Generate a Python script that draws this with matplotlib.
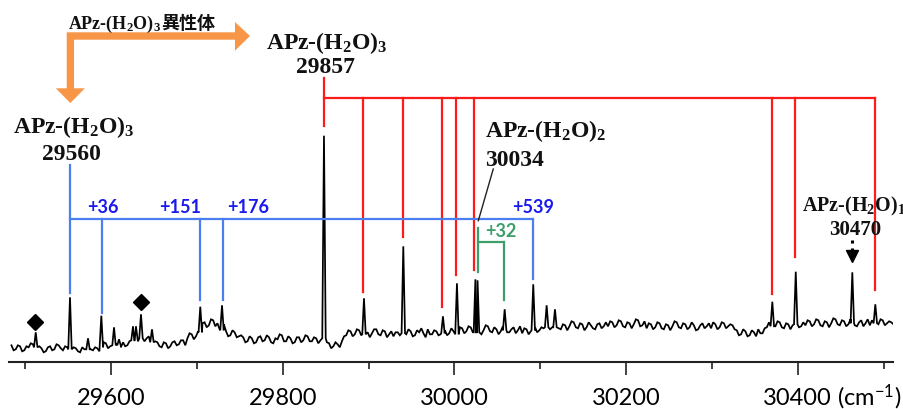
import numpy as np
import matplotlib
matplotlib.use("Agg")
import matplotlib.pyplot as plt
from matplotlib.patches import Polygon

plt.rcParams['mathtext.default'] = 'regular'

# ---------------- data ----------------
# noisy baseline of the spectrum, read every 5 cm-1 starting at 29484 cm-1
base_start = 29484
base_step = 5
base_y = [17, 13, 16, 12, 15, 18, 13, 14, 11, 16, 13, 17,
          12, 15, 11, 14, 10, 13, 16, 12, 14,
          15, 19, 16, 14, 18, 20, 17,
          22, 27, 25, 21, 26,
          17, 20, 15, 19, 16, 21, 18, 22,
          24, 28, 26,
          35, 40, 37, 42, 39, 34,
          31, 27, 30, 26,
          25, 21, 24, 20, 26, 22, 25, 19, 23, 27, 21, 24, 20, 25, 22, 26, 21, 24, 22,
          15, 19, 16, 18, 21,
          27, 31, 28, 32, 26, 30, 29, 33, 27, 31, 28, 26, 30, 32, 28, 31, 27, 30, 29, 33, 28, 31,
          28, 32, 29, 31,
          30, 34, 31, 35, 29, 33, 32, 36, 30, 33, 31, 34, 30, 35, 32, 29, 33, 31, 35, 32,
          34, 38, 35, 39, 33, 37, 36, 40, 34, 38, 35, 37, 33, 39, 36,
          36, 40, 37, 41, 35, 39, 38, 42, 37,
          34, 38, 35, 39, 33, 37, 36, 40, 34, 38, 35, 37, 33, 39, 36, 34, 38, 35, 39, 36, 37,
          32, 28, 31, 27, 30, 33, 29,
          35, 39, 36, 40, 34, 38, 37, 41, 36,
          37, 41, 38, 42, 36, 40, 39, 43, 37, 41, 38, 40, 36, 42, 39, 37, 41, 38, 42, 39, 40]
# the same baseline read half-way between those points (29486.5, 29491.5, ...)
base_y_mid = [12, 17, 11, 16, 19, 12, 16, 10, 15, 12, 18, 14,
              16, 10, 15, 11, 15, 9, 13, 15, 11,
              20, 14, 18, 19, 15, 16, 21,
              28, 21, 29, 24, 22,
              21, 16, 20, 14, 20, 17, 22, 17,
              29, 23, 31,
              39, 35, 43, 36, 33, 38,
              26, 32, 25, 27,
              20, 26, 19, 25, 21, 27, 20, 24, 28, 21, 26, 19, 25, 20, 27, 21, 25, 19, 26,
              20, 14, 20, 15, 26,
              32, 26, 33, 27, 31, 25, 33, 28, 32, 25, 31, 30, 27, 26, 33, 26, 32, 34, 25, 28, 32, 27,
              33, 27, 34, 28,
              35, 29, 36, 30, 34, 28, 37, 31, 35, 28, 36, 30, 33, 29, 36, 34, 28, 36, 30, 35,
              39, 33, 40, 34, 38, 32, 41, 35, 39, 32, 40, 34, 38, 34, 40,
              41, 35, 42, 36, 40, 34, 43, 36, 41,
              39, 33, 40, 34, 38, 32, 41, 35, 39, 33, 40, 32, 37, 34, 39, 40, 33, 40, 34, 38, 33,
              27, 33, 26, 32, 26, 29, 34,
              40, 34, 41, 35, 39, 33, 42, 35, 40,
              42, 36, 43, 37, 41, 35, 44, 38, 42, 36, 43, 37, 40, 36, 43, 42, 36, 43, 37, 41, 38]

# sharp peaks: position (cm-1), local base, top intensity
peak_pos = [29512.3, 29552.2, 29573.2, 29588.7, 29603.5, 29609.3, 29625.6, 29629.1,
            29634.9, 29647.7, 29704.0, 29729.3, 29848.1, 29894.7, 29940.5, 29986.7,
            30003.0, 30024.5, 30027.0, 30058.6, 30091.9, 30107.5, 30117.2, 30370.4,
            30397.7, 30463.6, 30490.4]
peak_base = [15, 13, 13, 15, 17, 17, 22, 22,
             24, 20, 30, 32, 24, 28, 29, 29,
             28, 30, 30, 32, 32, 35, 35, 36,
             38, 39, 39]
peak_top = [30, 65, 24, 46.6, 35, 23, 36, 36,
            48, 33, 55.6, 57, 226.6, 64, 116, 46,
            79, 83, 82, 53, 78, 57, 53, 60.6,
            90.6, 90, 58]

# x axis ticks
major_ticks = [29600, 29800, 30000, 30200, 30400]
minor_ticks = [29500, 29700, 29900, 30100, 30300, 30500]
tick_labels = ["29600", "29800", "30000", "30200", "30400"]

# red progression (APz-(H2O)3 29857)
red_x = [29848.4, 29893.6, 29940.6, 29986.0, 30002.3, 30022.8, 30369.7, 30397.3, 30490.5]
red_bottom = [236.3, 70.6, 125.6, 55.6, 87.3, 92.6, 68.3, 105.6, 72.6]
red_top_first = 284.3
red_bar_y = 264.3

# blue progression (APz-(H2O)3 29560)
blue_x = [29552.2, 29589.5, 29704.0, 29730.0, 30091.9]
blue_bottom = [69.3, 49.3, 62.3, 62.3, 83.3]
blue_top_first = 197.3
blue_bar_y = 143.3
blue_labels = ["+36", "+151", "+176", "+539"]
blue_label_x = [29571.7, 29655.9, 29734.8, 30067.1]
blue_label_y = 150.6

# green (+32)
green_x = [30027.6, 30057.8]
green_top_first = 134.3
green_bar_y = 120.6
green_bottom = [90.6, 62.6]

# diamonds
diamond_x = [29511.5, 29634.6]
diamond_y = [40.3, 60.3]

# ---------------- figure ----------------
fig = plt.figure(figsize=(9.04, 4.10), dpi=100)
ax = fig.add_axes([9.3 / 904, (410 - 363.3) / 410, 883.7 / 904, 363.3 / 410])
ax.set_xlim(29481.5, 30511.0)
ax.set_ylim(0, 363.3)

# build spectrum trace
w = 2.0
bx = np.concatenate([base_start + base_step * np.arange(len(base_y)),
                     base_start + base_step / 2 + base_step * np.arange(len(base_y_mid))])
by = np.concatenate([np.array(base_y, float), np.array(base_y_mid, float)])
pp = np.array(peak_pos)
keep = np.array([np.all(np.abs(pp - v) > w) for v in bx])
xs = np.concatenate([bx[keep], pp - w, pp, pp + w])
ys = np.concatenate([by[keep], peak_base, peak_top, peak_base])
order = np.argsort(xs)
ax.plot(xs[order], ys[order], color='black', lw=1.25, solid_joinstyle='miter')

# spines / ticks
for s in ['left', 'right', 'top']:
    ax.spines[s].set_visible(False)
ax.spines['bottom'].set_linewidth(1.5)
ax.spines['bottom'].set_color('#222222')
ax.set_yticks([])
ax.set_xticks(major_ticks)
ax.set_xticklabels(tick_labels)
ax.set_xticks(minor_ticks, minor=True)
ax.tick_params(axis='x', which='major', direction='out', length=9, width=1.3,
               color='#333333', pad=9, labelsize=17)
ax.tick_params(axis='x', which='minor', direction='out', length=5, width=1.3, color='#333333')
for lab in ax.get_xticklabels():
    lab.set_fontfamily('Lato')
ax.text(30445.4, -41.7, '(cm$^{-1}$)', fontsize=17, family='Lato', ha='left',
        va='baseline', clip_on=False)

# red bracket
red_c = '#ff1a1a'
lw = 1.6
ax.plot([red_x[0], red_x[0]], [red_top_first, red_bottom[0]], color=red_c, lw=lw)
ax.plot([red_x[0], red_x[-1]], [red_bar_y, red_bar_y], color=red_c, lw=lw)
for xv, yb in zip(red_x[1:], red_bottom[1:]):
    ax.plot([xv, xv], [red_bar_y, yb], color=red_c, lw=lw)

# blue bracket
blue_c = '#4a7ff2'
ax.plot([blue_x[0], blue_x[0]], [blue_top_first, blue_bottom[0]], color=blue_c, lw=lw)
ax.plot([blue_x[0], blue_x[-1]], [blue_bar_y, blue_bar_y], color=blue_c, lw=lw)
for xv, yb in zip(blue_x[1:], blue_bottom[1:]):
    ax.plot([xv, xv], [blue_bar_y, yb], color=blue_c, lw=lw)
for t, xv in zip(blue_labels, blue_label_x):
    ax.text(xv, blue_label_y, t, color='#1a1aee', fontsize=13, fontweight='bold',
            family='Lato', ha='left', va='baseline')

# green bracket
green_c = '#3d9e6a'
ax.plot([green_x[0], green_x[0]], [green_top_first, green_bottom[0]], color=green_c, lw=lw)
ax.plot([green_x[0], green_x[1]], [green_bar_y, green_bar_y], color=green_c, lw=lw)
ax.plot([green_x[1], green_x[1]], [green_bar_y, green_bottom[1]], color=green_c, lw=lw)
ax.text(30035.7, 126.6, '+32', color=green_c, fontsize=13, fontweight='bold',
        family='Lato', ha='left', va='baseline')

# diamonds
ax.plot(diamond_x, diamond_y, linestyle='none', marker='D', color='black', markersize=8)

# leader line to 30034
ax.plot([30045.3, 30027.9], [193.3, 141.6], color='#222222', lw=1.0)

# dotted arrow for 30470
ax.plot([30463.6, 30463.6], [122.3, 110.3], color='black', lw=2.2, linestyle=(0, (1, 1.6)))
ax.plot([30463.6], [106.5], marker='v', color='black', markersize=8, linestyle='none')

# labels (bold serif)
serif = dict(family='Liberation Serif', fontweight='bold', color='#111111')
ax.text(29851.6, 314.0, 'APz-(H$_2$O)$_3$', fontsize=17, ha='center', va='baseline', **serif)
ax.text(29850.3, 290.6, '29857', fontsize=17, ha='center', va='baseline', **serif)
ax.text(29555.9, 230.0, 'APz-(H$_2$O)$_3$', fontsize=17, ha='center', va='baseline', **serif)
ax.text(29553.7, 203.3, '29560', fontsize=17, ha='center', va='baseline', **serif)
ax.text(30035.7, 226.0, 'APz-(H$_2$O)$_2$', fontsize=17, ha='left', va='baseline', **serif)
ax.text(30035.7, 197.3, '30034', fontsize=17, ha='left', va='baseline', **serif)
ax.text(30405.0, 151.6, 'APz-(H$_2$O)$_1$', fontsize=14.5, ha='left', va='baseline',
        clip_on=False, **serif)
ax.text(30466.7, 128.3, '30470', fontsize=15, ha='center', va='baseline', **serif)

# orange bent arrow
arrow_pts = [(29548.4, 330.0), (29744.4, 330.0), (29744.4, 340.3), (29761.9, 326.3),
             (29744.4, 311.6), (29744.4, 322.6), (29556.9, 322.6), (29556.9, 274.0),
             (29569.5, 274.0), (29552.6, 259.3), (29535.7, 274.0), (29548.4, 274.0)]
ax.add_patch(Polygon(arrow_pts, closed=True, facecolor='#f79646', edgecolor='none'))

# isomer label
t_iso = ax.text(29549.9, 334.6, 'APz-(H$_2$O)$_3$', fontsize=13, ha='left', va='baseline', **serif)
fig.canvas.draw()
bb = t_iso.get_window_extent(fig.canvas.get_renderer())
x_next = ax.transData.inverted().transform((bb.x1, 0))[0]
ax.text(x_next, 334.6, '異性体', fontsize=13, ha='left', va='baseline',
        family=['Noto Sans CJK JP', 'DejaVu Sans'], fontweight='bold', color='#111111')

fig.savefig('out.png', dpi=100)
